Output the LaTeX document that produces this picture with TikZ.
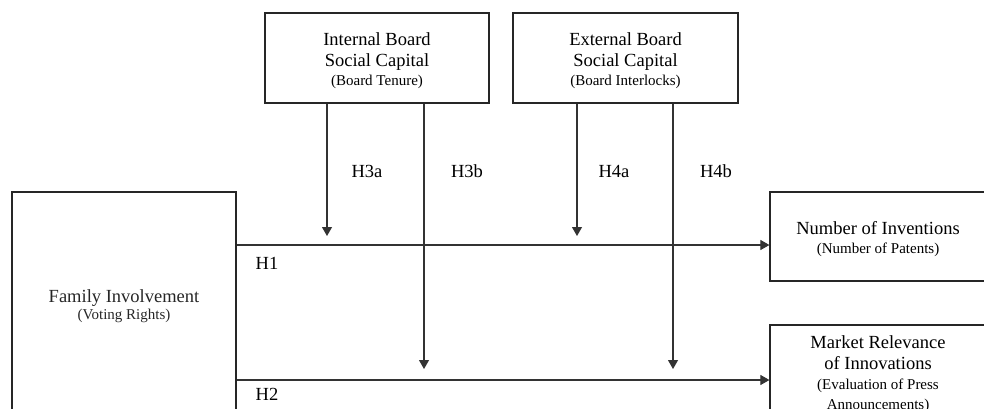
\documentclass[tikz,border=0pt]{standalone}
\usepackage{fontspec}
\setmainfont{Liberation Serif}
\usetikzlibrary{positioning,arrows.meta}

\newcommand{\bigtxt}{\fontsize{18.5}{21}\selectfont}
\newcommand{\smalltxt}{\fontsize{15}{19}\selectfont}

\begin{document}
\begin{tikzpicture}[x=1pt, y=-1pt, font=\bigtxt]

		\clip (0,0) rectangle (984,408);

		\tikzstyle{varBox} = [draw, rectangle, line width=1.2pt, align=center, inner sep=0pt, color=black!85]
		\tikzstyle{effect} = [line width=1.1pt, black!80, -{Triangle[length=9pt,width=10pt]}]

		% Nodes
		\node[varBox, minimum width=224pt, minimum height=90pt] (internal) at (377,58) {};
		\node[align=center] (internalTxt) at (377,61) {Internal Board\\Social Capital\\[-2pt]{\smalltxt(Board Tenure)}};
		\node[varBox, minimum width=225pt, minimum height=90pt] (external) at (625.5,58) {};
		\node[align=center] (externalTxt) at (625.5,61) {External Board\\Social Capital\\[-2pt]{\smalltxt(Board Interlocks)}};
		\node[varBox, minimum width=224pt, minimum height=228pt] (family) at (124,306) {Family Involvement\\[-4pt]{\smalltxt(Voting Rights)}};
		\node[varBox, minimum width=216pt, minimum height=89pt] (inventions) at (878,236.5) {};
		\node[align=center] (inventionsTxt) at (878,239) {Number of Inventions\\[-2pt]{\smalltxt(Number of Patents)}};
		\node[varBox, minimum width=216pt, minimum height=96pt] (relevance) at (878,373) {};
		\node[align=center, anchor=north] (relevanceTxt) at (878,332) {Market Relevance\\of Innovations\\[-1pt]{\smalltxt(Evaluation of Press}\\[-1pt]{\smalltxt Announcements)}};

		% Main effects
		\coordinate (h1) at (0,245);
		\coordinate (h2) at (0,380);
		\draw[effect] (family.east |- h1) -- (inventions.west |- h1);
		\draw[effect] (family.east |- h2) -- (relevance.west |- h2);
		\node (lH1) at (267,263) {H1};
		\node (lH2) at (267,394) {H2};

		% Moderating effects
		\coordinate (m3a) at (327,236);
		\coordinate (m3b) at (424,369);
		\coordinate (m4a) at (577,236);
		\coordinate (m4b) at (673,369);
		\draw[effect] (internal.south -| m3a) -- (m3a);
		\draw[effect] (internal.south -| m3b) -- (m3b);
		\draw[effect] (external.south -| m4a) -- (m4a);
		\draw[effect] (external.south -| m4b) -- (m4b);
		\node (lH3a) at (367,171) {H3a};
		\node (lH3b) at (467,171) {H3b};
		\node (lH4a) at (614,171) {H4a};
		\node (lH4b) at (716,171) {H4b};

	\end{tikzpicture}
\end{document}
